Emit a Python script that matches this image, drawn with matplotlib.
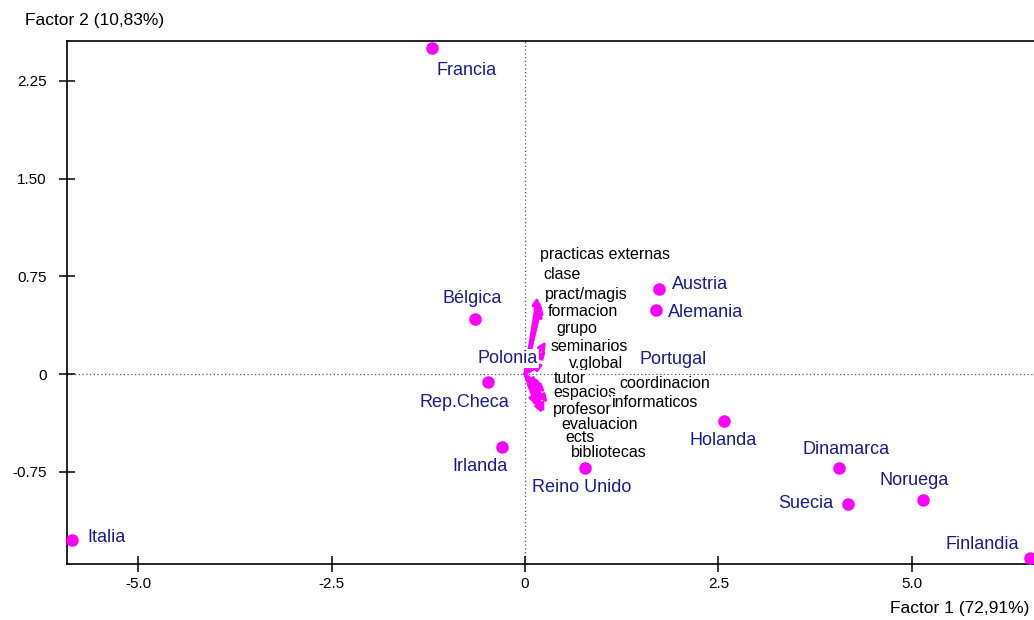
import matplotlib
matplotlib.use("Agg")
import matplotlib.pyplot as plt

plt.rcParams['font.family'] = ['Liberation Sans', 'DejaVu Sans']

# Countries: factor scores on the first two factors
countries = ['Francia', 'Bélgica', 'Austria', 'Alemania', 'Polonia', 'Portugal',
             'Rep.Checa', 'Irlanda', 'Holanda', 'Reino Unido', 'Dinamarca',
             'Suecia', 'Noruega', 'Italia', 'Finlandia']
country_f1 = [-1.20, -0.65, 1.73, 1.69, 0.10, 1.29,
              -0.48, -0.30, 2.57, 0.78, 4.06,
              4.18, 5.14, -5.85, 6.53]
country_f2 = [2.50, 0.42, 0.65, 0.49, -0.08, -0.07,
              -0.06, -0.56, -0.36, -0.72, -0.72,
              -1.00, -0.97, -1.27, -1.41]

# Variables: loadings drawn as vectors from the origin
variables = ['practicas externas', 'clase', 'pract/magis', 'formacion', 'grupo',
             'seminarios', 'v.global', 'tutor', 'espacios', 'coordinacion',
             'informaticos', 'profesor', 'evaluacion', 'ects', 'bibliotecas']
var_f1 = [0.16, 0.21, 0.19, 0.20, 0.27, 0.27, 0.24, 0.17, 0.21, 0.26,
          0.29, 0.20, 0.25, 0.14, 0.22]
var_f2 = [0.59, 0.53, 0.56, 0.50, 0.25, 0.18, 0.08, -0.09, -0.20, -0.14,
          -0.22, -0.27, -0.29, -0.24, -0.30]

x_ticks = [-5.0, -2.5, 0.0, 2.5, 5.0]
x_ticklabels = ['-5.0', '-2.5', '0', '2.5', '5.0']
y_ticks = [-0.75, 0.0, 0.75, 1.50, 2.25]
y_ticklabels = ['-0.75', '0', '0.75', '1.50', '2.25']

# label placement: country labels as pixel offsets from their point
country_offsets = {
    'Francia': (4, -22), 'Bélgica': (-32, 21), 'Austria': (13, 5),
    'Alemania': (12, -2), 'Polonia': (-55, 26), 'Portugal': (15, 24),
    'Rep.Checa': (-68, -21), 'Irlanda': (-49, -19), 'Holanda': (-34, -20),
    'Reino Unido': (-53, -20), 'Dinamarca': (-37, 18), 'Suecia': (-70, 1),
    'Noruega': (-43, 20), 'Italia': (15, 2), 'Finlandia': (-85, 13),
}
# variable labels placed in data coordinates (left edge, vertical centre)
var_label_pos = [(0.194, 0.915), (0.233, 0.761), (0.259, 0.608), (0.298, 0.477),
                 (0.401, 0.347), (0.336, 0.209), (0.569, 0.078), (0.375, -0.037),
                 (0.362, -0.144), (1.216, -0.075), (1.125, -0.221), (0.362, -0.275),
                 (0.466, -0.390), (0.517, -0.490), (0.595, -0.605)]

MAGENTA = '#ff00ff'
NAVY = '#1a1a90'

fig = plt.figure(figsize=(10.34, 6.2), dpi=100)
ax = fig.add_axes([0.0648, 0.0903, 0.9352, 0.8435])
ax.set_xlim(-5.92, 6.58)
ax.set_ylim(-1.458, 2.556)

# reference lines through the origin
ax.axhline(0, color='#555555', lw=0.9, ls=(0, (1, 2)), zorder=1)
ax.axvline(0, color='#555555', lw=0.9, ls=(0, (1, 2)), zorder=1)

# country points
ax.plot(country_f1, country_f2, 'o', color=MAGENTA, ms=8, mec=MAGENTA,
        zorder=3, clip_on=False)

# variable vectors
for vx, vy in zip(var_f1, var_f2):
    ax.annotate('', xy=(vx, vy), xytext=(0, 0),
                arrowprops=dict(arrowstyle='-|>', color=MAGENTA, lw=2.0,
                                mutation_scale=11, shrinkA=0, shrinkB=0),
                zorder=4)

# variable labels, stacked; later labels overlap earlier ones
for i, (name, (lx, ly)) in enumerate(zip(variables, var_label_pos)):
    ax.text(lx, ly, name, fontsize=11.5, color='black', ha='left', va='center',
            zorder=10 + i,
            bbox=dict(boxstyle='square,pad=0.08', fc='white', ec='none'))

# country labels
for name, cx, cy in zip(countries, country_f1, country_f2):
    dx, dy = country_offsets[name]
    ax.annotate(name, xy=(cx, cy), xytext=(dx, dy), textcoords='offset pixels',
                fontsize=13, color=NAVY, ha='left', va='center', zorder=30,
                bbox=dict(boxstyle='square,pad=0.05', fc='white', ec='none'))

# axes styling
ax.spines['right'].set_visible(False)
for s in ('left', 'top', 'bottom'):
    ax.spines[s].set_linewidth(1.2)
ax.set_xticks(x_ticks)
ax.set_xticklabels(x_ticklabels)
ax.set_yticks(y_ticks)
ax.set_yticklabels(y_ticklabels)
ax.tick_params(direction='inout', length=11, width=1.1, labelsize=11,
               top=False, right=False)
ax.tick_params(axis='x', pad=4)
ax.tick_params(axis='y', pad=9)

fig.text(0.024, 0.967, 'Factor 2 (10,83%)', fontsize=12.5, ha='left', va='center')
fig.text(0.996, 0.018, 'Factor 1 (72,91%)', fontsize=12.5, ha='right', va='center')

fig.savefig('out.png', dpi=100)
